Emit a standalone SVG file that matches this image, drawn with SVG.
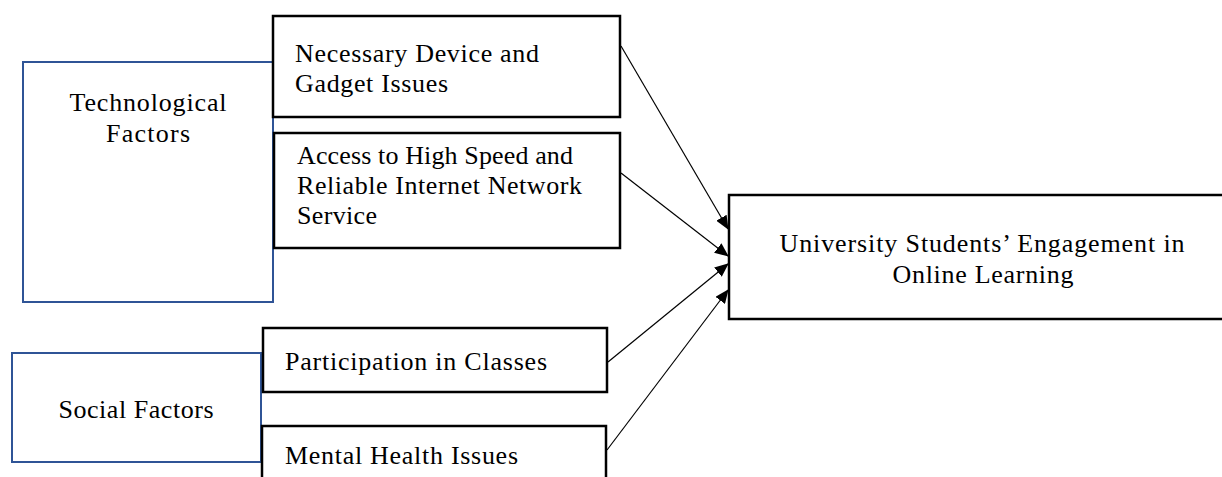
<svg xmlns="http://www.w3.org/2000/svg" width="1222" height="477" viewBox="0 0 1222 477">
<defs>
<marker id="ah" markerWidth="14" markerHeight="12" refX="13" refY="6" orient="auto" markerUnits="userSpaceOnUse">
<path d="M0,0 L14,6 L0,12 Z" fill="#000"/>
</marker>
<style>
.blue{fill:#fff;stroke:#2F5496;stroke-width:2}
.blk{fill:#fff;stroke:#000;stroke-width:2.5}
text{font-family:"Liberation Serif","Times New Roman",serif;font-size:26px;fill:#000}
.c{text-anchor:middle}
.conn{stroke:#000;stroke-width:1.2;fill:none;marker-end:url(#ah)}
</style>
</defs>
<rect width="1222" height="477" fill="#fff"/>
<g id="technological">
<rect class="blue" x="23" y="62" width="250" height="240"/>
<text class="c" x="148" y="111" textLength="157">Technological</text>
<text class="c" x="148" y="142" textLength="84">Factors</text>
</g>
<g id="social">
<rect class="blue" x="12" y="353" width="249" height="109"/>
<text class="c" x="136" y="418" textLength="155">Social Factors</text>
</g>
<g id="device">
<rect class="blk" x="273" y="16" width="347" height="101"/>
<text x="295" y="62" textLength="244">Necessary Device and</text>
<text x="295" y="92" textLength="153">Gadget Issues</text>
</g>
<g id="internet">
<rect class="blk" x="274" y="133" width="346" height="115"/>
<text x="297" y="164" textLength="276">Access to High Speed and</text>
<text x="297" y="194" textLength="285">Reliable Internet Network</text>
<text x="297" y="224" textLength="80">Service</text>
</g>
<g id="participation">
<rect class="blk" x="263" y="328" width="344" height="64"/>
<text x="285" y="370" textLength="262">Participation in Classes</text>
</g>
<g id="mental">
<rect class="blk" x="262" y="426" width="344" height="60"/>
<text x="285" y="464" textLength="233">Mental Health Issues</text>
</g>
<g id="engagement">
<rect class="blk" x="729" y="195" width="505" height="124"/>
<text class="c" x="982" y="252" textLength="405">University Students’ Engagement in</text>
<text class="c" x="983" y="283" textLength="181">Online Learning</text>
</g>
<g id="connectors">
<line class="conn" x1="621" y1="46" x2="728" y2="229"/>
<line class="conn" x1="621" y1="173" x2="728" y2="256"/>
<line class="conn" x1="608" y1="362" x2="728" y2="264"/>
<line class="conn" x1="607" y1="450" x2="728" y2="290"/>
</g>
</svg>
